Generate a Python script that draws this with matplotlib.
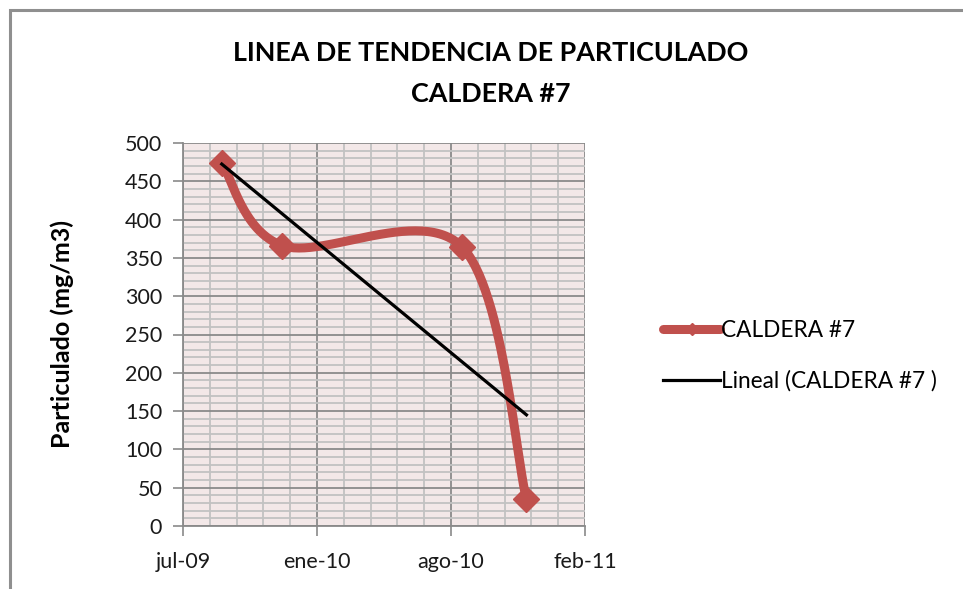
import numpy as np
import matplotlib
matplotlib.use('Agg')
import matplotlib.pyplot as plt
import matplotlib.dates as mdates
from matplotlib.patches import Rectangle
from matplotlib.lines import Line2D
from matplotlib.ticker import MultipleLocator, FixedLocator

#------------------------------------------------------------------------------
#data
fechas=['2009-09-13','2009-12-08','2010-08-20','2010-11-19']
particulado=[474,366,364,35]

#axis ticks of the date axis
x_ticks=['2009-07-20','2010-01-26','2010-08-04','2011-02-10']
x_tick_labels=['jul-09','ene-10','ago-10','feb-11']

#------------------------------------------------------------------------------
"""
Excel like smoothed line (Catmull-Rom bezier)

Args:
    x,y: points of the series
    n: samples per segment

Returns:
    xs,ys of smoothed curve
"""
def SmoothLine(x,y,n=60):

    p=np.column_stack([x,y]).astype(float)

    #duplicate end points
    p_ext=np.vstack([p[0],p,p[-1]])

    list_xy=[]

    t=np.linspace(0,1,n)[:,None]

    for k in range(len(p)-1):

        p0,p1,p2,p3=p_ext[k],p_ext[k+1],p_ext[k+2],p_ext[k+3]

        c1=p1+(p2-p0)/6
        c2=p2-(p3-p1)/6

        seg=(1-t)**3*p1+3*(1-t)**2*t*c1+3*(1-t)*t**2*c2+t**3*p2

        list_xy.append(seg)

    xy=np.vstack(list_xy)

    return xy[:,0],xy[:,1]

#------------------------------------------------------------------------------
plt.rcParams['font.family']=['Lato','DejaVu Sans']

x=mdates.datestr2num(fechas)
y=np.array(particulado,dtype=float)

x_tick_pos=mdates.datestr2num(x_ticks)

figure=plt.figure(figsize=(9.63,5.89),dpi=100)

#outer border of the chart
figure.patches.append(Rectangle((10/963,-0.1),1.2,1-10/589+0.1,
                                transform=figure.transFigure,
                                facecolor='white',edgecolor='#8f8f8f',
                                linewidth=2.2,zorder=-10))

ax=figure.add_axes([183/963,1-526/589,(585-183)/963,(526-143)/589])

ax.set_facecolor('#f3e8e8')

ax.set_xlim(x_tick_pos[0],x_tick_pos[-1])
ax.set_ylim(0,500)

#grid
ax.yaxis.set_major_locator(MultipleLocator(50))
ax.yaxis.set_minor_locator(MultipleLocator(10))
ax.xaxis.set_major_locator(FixedLocator(x_tick_pos))
step=(x_tick_pos[1]-x_tick_pos[0])/5
ax.xaxis.set_minor_locator(FixedLocator(np.arange(x_tick_pos[0],x_tick_pos[-1]+1,step)))

ax.grid(which='minor',color='#c2c2c2',linewidth=1.3)
ax.grid(which='major',color='#8a8a8a',linewidth=1.3)
ax.set_axisbelow(True)

ax.set_xticklabels(x_tick_labels)

ax.tick_params(which='major',direction='out',length=7,width=1.2,color='#8a8a8a',
               labelsize=15.5,labelcolor='#1a1a1a')
ax.tick_params(axis='y',which='major',pad=8)
ax.tick_params(axis='x',which='major',pad=12)
ax.tick_params(which='minor',length=0)

for side in ['top','right']:
    ax.spines[side].set_visible(False)
for side in ['left','bottom']:
    ax.spines[side].set_color('#8a8a8a')
    ax.spines[side].set_linewidth(1.3)

#smoothed series
xs,ys=SmoothLine(x,y)

ax.plot(xs,ys,color='#c0504d',linewidth=6.5,solid_capstyle='round',zorder=3)
ax.plot(x,y,linestyle='none',marker='D',markersize=13,
        color='#c0504d',markeredgecolor='#c0504d',zorder=4)

#linear trend
coef=np.polyfit(x,y,1)
ax.plot(x[[0,-1]],np.polyval(coef,x[[0,-1]]),color='black',linewidth=2.3,zorder=5)

#title and label
figure.text(491/963,1-53/589,'LINEA DE TENDENCIA DE PARTICULADO',
            ha='center',va='center',fontsize=19.4,fontweight='bold')
figure.text(491/963,1-94/589,'CALDERA #7',
            ha='center',va='center',fontsize=19.4,fontweight='bold')
figure.text(62/963,1-334/589,'Particulado (mg/m3)',rotation=90,
            ha='center',va='center',fontsize=18,fontweight='bold')

#legend
handles=[Line2D([],[],color='#c0504d',linewidth=6.5,marker='D',markersize=6,
                solid_capstyle='round'),
         Line2D([],[],color='black',linewidth=2.3)]

figure.legend(handles,['CALDERA #7','Lineal (CALDERA #7 )'],
              loc='center left',bbox_to_anchor=(643/963,1-356/589),
              frameon=False,fontsize=16.3,handlelength=2.5,handletextpad=0.05,
              labelspacing=1.3)

figure.savefig('out.png',dpi=100)
